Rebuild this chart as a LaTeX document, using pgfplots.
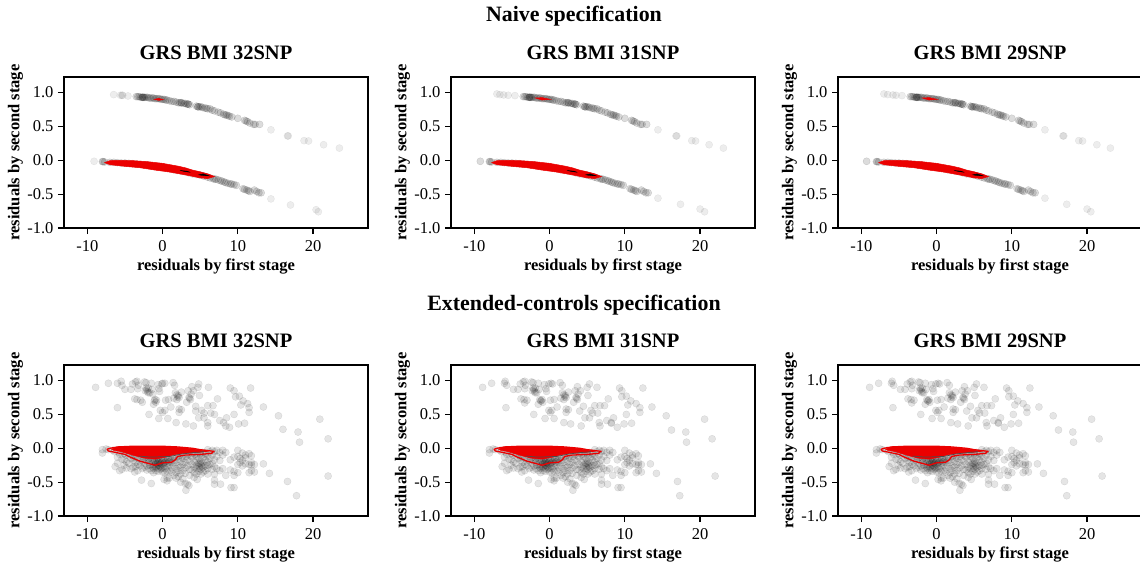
\documentclass[border=0pt]{standalone}
\usepackage{pgfplots}
\usepackage{pgfplotstable}
\usepackage{fontspec}
\setmainfont{Liberation Serif}
\pgfplotsset{compat=1.18}

% ---- Naive specification: shared body of both strips
\pgfplotstableread[row sep=\\]{
x y\\
-3.5 0.94\\-3.3 0.94\\-3.1 0.94\\-2.9 0.93\\-2.7 0.93\\-2.7 0.93\\-2.6 0.93\\-2.5 0.93\\-2.4 0.93\\-2.2 0.93\\-2.0 0.93\\-1.8 0.92\\-1.6 0.92\\-1.4 0.92\\-1.2 0.92\\-1.0 0.91\\-0.8 0.91\\-0.6 0.91\\-0.4 0.91\\-0.2 0.90\\0.0 0.90\\0.2 0.90\\0.4 0.89\\0.6 0.89\\0.9 0.88\\1.2 0.87\\1.5 0.87\\1.8 0.86\\2.1 0.85\\2.3 0.85\\2.5 0.85\\2.5 0.85\\2.8 0.84\\3.0 0.84\\3.2 0.83\\3.4 0.83\\3.4 0.83\\3.6 0.82\\4.5 0.80\\4.7 0.79\\4.7 0.79\\4.9 0.79\\5.1 0.79\\5.3 0.78\\5.6 0.77\\5.8 0.77\\6.0 0.76\\6.3 0.76\\6.6 0.74\\6.9 0.73\\7.4 0.71\\7.7 0.70\\8.1 0.68\\8.3 0.67\\8.5 0.67\\8.7 0.66\\8.9 0.65\\9.2 0.64\\10.0 0.62\\10.9 0.59\\11.1 0.58\\11.3 0.57\\11.6 0.55\\12.1 0.53\\12.3 0.53\\12.9 0.53\\
-8.0 -0.02\\-7.9 -0.02\\-7.7 -0.025\\-7.0 -0.03\\-6.5 -0.03\\-6.0 -0.035\\-5.5 -0.04\\-5.0 -0.04\\-4.5 -0.045\\-4.0 -0.05\\-3.5 -0.055\\-3.0 -0.06\\-2.5 -0.065\\-2.0 -0.07\\-1.5 -0.08\\-1.0 -0.09\\-0.5 -0.095\\0.0 -0.10\\0.5 -0.115\\1.0 -0.125\\1.5 -0.14\\2.0 -0.15\\2.5 -0.16\\3.0 -0.17\\3.5 -0.185\\4.0 -0.20\\4.5 -0.21\\5.0 -0.22\\5.5 -0.235\\6.0 -0.25\\6.3 -0.26\\6.7 -0.27\\6.9 -0.28\\7.1 -0.28\\7.4 -0.29\\7.7 -0.30\\7.9 -0.31\\8.2 -0.32\\8.4 -0.33\\8.7 -0.34\\9.0 -0.35\\9.2 -0.35\\9.5 -0.36\\9.8 -0.37\\10.7 -0.42\\10.9 -0.43\\11.2 -0.44\\11.4 -0.45\\11.6 -0.46\\12.2 -0.44\\12.5 -0.46\\12.8 -0.48\\13.1 -0.48\\
}\naivebody
\pgfplotstableread[row sep=\\]{
x y\\
-6.5 0.97\\-5.6 0.96\\-5.4 0.96\\-5.3 0.96\\-4.6 0.95\\14.4 0.45\\16.6 0.36\\16.7 0.36\\18.8 0.29\\19.4 0.285\\21.4 0.23\\23.5 0.18\\
-9.1 -0.015\\14.4 -0.57\\17.0 -0.66\\20.4 -0.73\\20.7 -0.76\\
}\naivetailA
\pgfplotstableread[row sep=\\]{
x y\\
-7.0 0.98\\-6.6 0.97\\-6.1 0.965\\-5.5 0.96\\-4.6 0.955\\14.4 0.45\\16.8 0.36\\16.9 0.36\\18.9 0.29\\19.4 0.285\\21.2 0.23\\23.1 0.18\\
-9.2 -0.015\\-9.2 -0.015\\14.4 -0.56\\17.4 -0.65\\20.0 -0.72\\20.6 -0.76\\
}\naivetailB
\pgfplotstableread[row sep=\\]{
x y\\
-7.0 0.98\\-6.5 0.97\\-5.8 0.965\\-5.4 0.96\\-4.6 0.955\\14.4 0.45\\16.8 0.36\\16.9 0.36\\18.9 0.29\\19.4 0.285\\21.3 0.23\\23.1 0.18\\
-9.3 -0.015\\-9.3 -0.015\\14.4 -0.56\\17.3 -0.65\\20.0 -0.72\\20.5 -0.76\\
}\naivetailC

% ---- KDE shapes, naive
\pgfplotstableread[row sep=\\]{
x y\\
-7.7 -0.035\\-7 -0.005\\-6 0.0\\-4 -0.005\\-2 -0.02\\0 -0.045\\2 -0.085\\3 -0.11\\4 -0.145\\5 -0.17\\6 -0.20\\6.9 -0.24\\6 -0.27\\5 -0.26\\3 -0.215\\1 -0.175\\-1 -0.145\\-3 -0.11\\-5 -0.09\\-7 -0.065\\
}\kdeNlow
\pgfplotstableread[row sep=\\]{
x y\\
2.3 -0.15\\3.2 -0.16\\3.7 -0.178\\2.9 -0.165\\
}\kdeNdarkA
\pgfplotstableread[row sep=\\]{
x y\\
4.8 -0.215\\5.4 -0.2\\6.2 -0.23\\5.5 -0.228\\
}\kdeNdarkB
\pgfplotstableread[row sep=\\]{
x y\\
-1.1 0.90\\-0.5 0.915\\0.1 0.895\\-0.5 0.885\\
}\kdeNupA
\pgfplotstableread[row sep=\\]{
x y\\
-1.9 0.92\\-1 0.925\\0.1 0.90\\-1 0.89\\
}\kdeNupB

% ---- Extended-controls specification
\pgfplotstableread[row sep=\\]{
x y\\
-8.9 0.90\\-7.2 0.96\\-6.0 0.96\\-5.5 0.99\\-5.4 0.93\\-5.0 0.87\\-6.0 0.60\\-4.2 0.87\\-4.0 0.95\\-3.6 0.98\\-3.4 0.99\\-3.2 0.93\\-3.4 0.72\\-3.7 0.73\\-2.9 0.71\\-2.7 0.68\\-2.4 0.98\\-2.2 0.97\\-2.1 0.87\\-2.0 0.84\\-1.9 0.89\\-1.7 0.82\\-1.5 0.96\\-1.4 0.87\\-1.3 0.80\\-1.1 0.70\\-1.2 0.65\\-0.9 0.68\\-0.6 0.94\\-0.5 0.88\\-0.4 0.84\\-0.1 0.95\\0.0 0.96\\0.3 0.96\\0.4 0.71\\0.8 0.72\\-0.3 0.56\\0.0 0.53\\0.3 0.56\\-0.5 0.44\\0.7 0.44\\-1.8 0.50\\1.1 0.61\\1.4 0.97\\1.6 0.93\\1.5 0.74\\1.7 0.82\\1.9 0.72\\2.1 0.78\\2.2 0.75\\2.5 0.83\\2.2 0.58\\2.2 0.53\\2.5 0.57\\1.8 0.38\\3.1 0.36\\3.2 0.68\\3.4 0.85\\3.6 0.74\\3.8 0.80\\3.9 0.91\\4.1 0.85\\4.1 0.33\\4.4 0.62\\4.4 0.55\\4.8 0.95\\4.7 0.90\\4.9 0.78\\4.8 0.45\\5.2 0.56\\5.5 0.45\\5.5 0.52\\6.0 0.38\\6.0 0.33\\6.1 0.90\\6.0 0.63\\6.4 0.52\\6.7 0.63\\6.9 0.50\\7.3 0.73\\7.6 0.41\\8.1 0.38\\8.5 0.45\\8.4 0.33\\8.9 0.31\\9.0 0.89\\9.5 0.85\\9.7 0.76\\9.5 0.50\\10.2 0.77\\10.1 0.36\\10.9 0.37\\10.4 0.64\\10.7 0.70\\11.3 0.66\\11.5 0.60\\11.5 0.53\\11.7 0.89\\13.4 0.61\\15.4 0.48\\16.0 0.28\\18.0 0.24\\18.2 0.09\\20.9 0.43\\22.0 0.14\\
-3.3 0.88\\-2.3 0.85\\-1.9 0.82\\-2.2 0.89\\-0.8 0.71\\-1.0 0.72\\1.9 0.79\\2.0 0.76\\3.5 0.75\\3.7 0.72\\
}\extupA
\pgfplotstableread[row sep=\\]{
x y\\
-8.9 0.90\\-7.7 0.96\\-6.0 0.96\\-5.9 0.99\\-5.7 0.93\\-4.8 0.87\\-5.8 0.60\\-4.2 0.87\\-3.9 0.95\\-3.5 0.98\\-3.3 0.99\\-3.2 0.93\\-3.4 0.72\\-3.8 0.73\\-3.0 0.71\\-3.3 0.67\\-2.4 0.98\\-2.2 0.97\\-2.1 0.87\\-2.0 0.84\\-1.9 0.89\\-1.7 0.82\\-1.5 0.96\\-1.4 0.87\\-1.3 0.72\\-1.1 0.70\\-1.5 0.65\\-0.9 0.68\\-0.7 0.94\\-0.5 0.88\\-0.4 0.84\\-0.1 0.95\\0.2 0.96\\0.4 0.95\\0.1 0.71\\0.6 0.72\\-0.1 0.56\\0.1 0.53\\0.3 0.56\\-0.6 0.44\\0.6 0.44\\-2.1 0.50\\1.0 0.61\\1.4 0.97\\1.7 0.93\\1.5 0.74\\1.7 0.82\\1.9 0.72\\2.1 0.78\\2.2 0.75\\2.5 0.83\\2.2 0.58\\2.2 0.53\\2.5 0.57\\1.9 0.38\\2.8 0.36\\3.2 0.68\\3.4 0.85\\3.6 0.74\\3.8 0.80\\3.7 0.91\\4.1 0.85\\4.2 0.33\\4.5 0.62\\4.0 0.55\\5.3 0.95\\5.0 0.90\\5.1 0.78\\4.7 0.45\\5.5 0.56\\5.3 0.45\\5.7 0.52\\6.6 0.38\\6.7 0.33\\6.3 0.90\\6.0 0.63\\6.4 0.52\\6.7 0.63\\7.3 0.63\\7.8 0.73\\7.6 0.41\\8.2 0.38\\8.5 0.45\\8.2 0.37\\9.0 0.31\\9.3 0.89\\9.6 0.85\\9.6 0.76\\10.2 0.50\\10.2 0.77\\9.9 0.36\\10.9 0.37\\10.4 0.64\\10.8 0.70\\11.5 0.66\\12.0 0.60\\12.0 0.53\\12.4 0.89\\13.6 0.61\\15.5 0.48\\16.2 0.27\\18.1 0.24\\18.2 0.09\\20.6 0.43\\21.6 0.14\\
-3.3 0.88\\-2.3 0.85\\-1.9 0.82\\-2.2 0.89\\-1.2 0.70\\-1.0 0.72\\1.9 0.79\\2.0 0.76\\3.5 0.75\\3.7 0.72\\
}\extupB
\pgfplotstableread[row sep=\\]{
x y\\
-8.0 -0.02\\-8.0 -0.07\\-7.5 -0.01\\-7.2 -0.02\\-6.6 -0.03\\-6.3 -0.27\\-6.0 -0.13\\-6.0 -0.22\\-5.7 -0.33\\-5.7 -0.09\\-5.4 -0.31\\-5.4 -0.16\\-5.1 -0.17\\-5.1 -0.25\\-5.1 -0.08\\-4.8 -0.20\\-4.8 -0.29\\-4.5 -0.11\\-4.5 -0.22\\-4.2 -0.30\\-3.7 -0.35\\-4.2 -0.15\\-3.9 -0.28\\-3.9 -0.18\\-3.6 -0.27\\-3.6 -0.21\\-3.6 -0.13\\-3.3 -0.33\\-3.3 -0.24\\-3.0 -0.20\\-3.0 -0.26\\-2.8 -0.47\\-2.7 -0.30\\-2.7 -0.18\\-2.4 -0.22\\-2.4 -0.28\\-2.1 -0.26\\-2.1 -0.32\\-2.1 -0.18\\-1.8 -0.30\\-1.8 -0.21\\-1.8 -0.15\\-1.5 -0.52\\-1.5 -0.24\\-1.5 -0.33\\-1.2 -0.18\\-1.2 -0.26\\-1.2 -0.30\\-1.2 -0.36\\-0.9 -0.22\\-0.9 -0.28\\-0.9 -0.33\\-0.6 -0.20\\-0.6 -0.25\\-0.6 -0.30\\-0.6 -0.34\\-0.6 -0.15\\-0.3 -0.22\\-0.3 -0.27\\-0.3 -0.31\\0.0 -0.18\\0.0 -0.24\\0.0 -0.35\\0.0 -0.29\\0.2 -0.46\\0.3 -0.20\\0.3 -0.30\\0.3 -0.36\\0.6 -0.44\\0.6 -0.22\\0.6 -0.27\\0.6 -0.48\\0.6 -0.34\\0.9 -0.17\\0.9 -0.25\\0.9 -0.33\\0.9 -0.44\\1.2 -0.21\\1.2 -0.35\\1.2 -0.29\\1.5 -0.18\\1.5 -0.25\\1.5 -0.40\\1.8 -0.30\\1.8 -0.36\\1.8 -0.21\\1.8 -0.44\\2.1 -0.16\\2.1 -0.26\\2.1 -0.33\\2.1 -0.42\\2.4 -0.20\\2.4 -0.28\\2.4 -0.38\\2.4 -0.50\\2.7 -0.15\\2.7 -0.24\\2.7 -0.33\\2.7 -0.45\\3.0 -0.21\\3.0 -0.29\\3.0 -0.37\\3.0 -0.52\\3.1 -0.62\\3.3 -0.17\\3.3 -0.26\\3.3 -0.53\\3.5 -0.55\\3.6 -0.19\\3.6 -0.31\\3.6 -0.40\\3.9 -0.13\\3.9 -0.24\\3.9 -0.32\\4.2 -0.20\\4.2 -0.28\\4.2 -0.36\\4.2 -0.43\\4.5 -0.12\\4.5 -0.18\\4.5 -0.25\\4.5 -0.30\\4.5 -0.38\\4.8 -0.15\\4.8 -0.22\\4.8 -0.27\\4.8 -0.34\\4.6 -0.46\\5.1 -0.10\\5.1 -0.19\\5.1 -0.24\\5.1 -0.31\\5.1 -0.38\\5.4 -0.13\\5.4 -0.21\\5.4 -0.28\\5.4 -0.35\\5.7 -0.09\\5.7 -0.17\\5.7 -0.26\\5.7 -0.33\\5.7 -0.07\\6.0 -0.12\\6.0 -0.20\\6.0 -0.30\\6.0 -0.38\\6.0 -0.02\\6.0 -0.25\\6.3 -0.15\\6.3 -0.24\\6.3 -0.05\\6.6 -0.10\\6.6 -0.22\\6.6 -0.31\\6.6 -0.03\\6.9 -0.05\\6.9 -0.17\\6.9 -0.27\\6.9 -0.38\\6.9 -0.47\\6.9 -0.53\\7.2 -0.12\\7.2 -0.30\\7.2 -0.03\\7.6 -0.06\\7.6 -0.18\\7.6 -0.33\\7.7 -0.53\\8.0 -0.10\\8.0 -0.03\\8.0 -0.30\\8.4 -0.40\\8.4 -0.06\\9.0 -0.32\\9.1 -0.58\\9.0 -0.17\\9.5 -0.58\\9.5 -0.40\\9.5 -0.34\\9.5 -0.13\\10.0 -0.36\\10.0 -0.03\\10.0 -0.24\\10.0 -0.12\\10.3 -0.21\\10.3 -0.15\\10.6 -0.18\\10.6 -0.07\\10.6 -0.26\\11.0 -0.10\\11.0 -0.14\\11.0 -0.23\\11.5 -0.36\\11.5 -0.08\\11.5 -0.24\\11.8 -0.33\\11.8 -0.25\\11.8 -0.11\\11.8 -0.21\\12.2 -0.35\\12.2 -0.24\\13.4 -0.23\\14.2 -0.37\\
-6.4 -0.05\\-5.8 -0.06\\-5.2 -0.05\\-4.9 -0.10\\-4.4 -0.07\\-4.0 -0.10\\-3.8 -0.14\\-3.4 -0.10\\-3.1 -0.15\\-2.8 -0.12\\-2.5 -0.16\\-2.2 -0.13\\-1.9 -0.18\\-1.6 -0.14\\-1.4 -0.19\\-1.1 -0.15\\-1.0 -0.20\\-0.8 -0.17\\-0.7 -0.22\\-0.5 -0.18\\-0.4 -0.21\\-0.2 -0.16\\-0.1 -0.20\\0.1 -0.17\\0.2 -0.22\\0.4 -0.15\\0.5 -0.19\\0.7 -0.16\\0.8 -0.20\\1.0 -0.14\\1.1 -0.18\\1.3 -0.13\\1.6 -0.14\\1.9 -0.12\\2.2 -0.11\\2.5 -0.13\\2.8 -0.10\\3.1 -0.12\\3.4 -0.09\\3.7 -0.11\\4.0 -0.08\\4.3 -0.09\\4.6 -0.07\\5.0 -0.08\\5.3 -0.06\\
-1.7 -0.25\\-1.3 -0.28\\-1.0 -0.24\\-0.8 -0.27\\-0.4 -0.25\\-0.2 -0.29\\0.2 -0.26\\4.9 -0.29\\5.2 -0.26\\5.0 -0.22\\
}\extlow
\pgfplotstableread[row sep=\\]{
x y\\
16.6 -0.49\\17.8 -0.70\\22.0 -0.41\\
}\extlowtailA
\pgfplotstableread[row sep=\\]{
x y\\
17.0 -0.49\\17.3 -0.70\\22.0 -0.41\\
}\extlowtailB

% ---- KDE shapes, extended
\pgfplotstableread[row sep=\\]{
x y\\
-7.4 -0.015\\-7 0.0\\-6 0.02\\-4 0.03\\-2 0.03\\0 0.03\\2 0.02\\4 0.0\\5 -0.02\\6.8 -0.045\\6.5 -0.075\\5 -0.09\\3 -0.10\\2 -0.12\\1.7 -0.17\\1.2 -0.205\\0 -0.215\\-1 -0.25\\-2 -0.22\\-3 -0.19\\-4.5 -0.12\\-5 -0.09\\-6.5 -0.055\\-7.2 -0.04\\-7.4 -0.015\\
}\kdeEout
\pgfplotstableread[row sep=\\]{
x y\\
-6.8 -0.012\\-6 0.02\\-4 0.03\\-2 0.03\\0 0.03\\2 0.015\\3.5 0.0\\5 -0.025\\6.0 -0.045\\4.5 -0.065\\3 -0.075\\1.5 -0.095\\0.5 -0.13\\-1 -0.16\\-2.5 -0.145\\-4 -0.10\\-5.5 -0.05\\-6.5 -0.03\\
}\kdeEin
\pgfplotstableread[row sep=\\]{
x y\\
-3.2 -0.115\\-1.5 -0.13\\1 -0.12\\2.5 -0.085\\4 -0.065\\5.5 -0.05\\
}\kdeEline

\definecolor{kderd}{RGB}{235,0,0}
\newcommand{\panel}[4]{%
\begin{axis}[at={(#1pt,#2pt)},anchor=south west,scale only axis,width=304pt,height=151pt,
  clip mode=individual,
  xmin=-13.1,xmax=27.3,ymin=-1,ymax=1.23,
  axis line style={line width=1.5pt,black},
  tick style={line width=1.2pt,black},
  tick align=outside,major tick length=6pt,
  xtick={-10,0,10,20},xticklabels={-10,0,10,20},
  ytick={-1,-0.5,0,0.5,1},yticklabels={-1.0,-0.5,0.0,0.5,1.0},
  xtick pos=bottom,ytick pos=left,
  tick label style={font=\fontsize{16.5}{16.5}\selectfont},
  xticklabel style={yshift=-3pt},yticklabel style={xshift=-1pt},
  title={#3},
  title style={font=\bfseries\fontsize{20.5}{20.5}\selectfont,at={(0.5,1)},anchor=center,yshift=18.5pt},
  xlabel={residuals by first stage},ylabel={residuals by second stage},
  every axis x label/.style={at={(axis description cs:0.5,0)},anchor=center,yshift=-38.5pt,font=\bfseries\fontsize{16.5}{16.5}\selectfont},
  every axis y label/.style={at={(axis description cs:0,0.5)},anchor=center,xshift=-48.5pt,rotate=90,font=\bfseries\fontsize{16.5}{16.5}\selectfont},
  pts/.style={only marks,mark=*,mark size=3.6pt,mark options={fill=black,draw=black,line width=0.4pt,opacity=0.1}},
  ptsb/.style={only marks,mark=*,mark size=3.6pt,mark options={fill=black,draw=black,line width=0.4pt,opacity=0.07}},
  kdefill/.style={draw=kderd,fill=kderd,line width=0.5pt,no marks},
  kdeline/.style={draw=kderd,line width=1.3pt,no marks},
]
#4
\end{axis}}

\newcommand{\naive}[2]{%
\addplot[ptsb] table {\naivebody};
\addplot[ptsb] table {\naivebody};
\addplot[ptsb] table {#1};
\addplot[kdefill] table {\kdeNlow} -- cycle;
\addplot[kdefill] table {#2} -- cycle;
\addplot[fill=black,draw=black,line width=0.3pt,no marks] table {\kdeNdarkA} -- cycle;
\addplot[fill=black,draw=black,line width=0.3pt,no marks] table {\kdeNdarkB} -- cycle;
}
\newcommand{\extended}[2]{%
\addplot[pts] table {#1};
\addplot[pts] table {\extlow};
\addplot[pts] table {#2};
\addplot[kdeline] table {\kdeEout};
\addplot[kdefill] table {\kdeEin} -- cycle;
\addplot[draw=black!70,line width=0.7pt,no marks] table {\kdeEline};
}

\begin{document}
\begin{tikzpicture}
\useasboundingbox (0,0) rectangle (1140pt,566pt);
\panel{64}{338}{GRS BMI 32SNP}{\naive{\naivetailA}{\kdeNupA}}
\panel{451}{338}{GRS BMI 31SNP}{\naive{\naivetailB}{\kdeNupB}}
\panel{838}{338}{GRS BMI 29SNP}{\naive{\naivetailC}{\kdeNupB}}
\panel{64}{50}{GRS BMI 32SNP}{\extended{\extupA}{\extlowtailA}}
\panel{451}{50}{GRS BMI 31SNP}{\extended{\extupB}{\extlowtailB}}
\panel{838}{50}{GRS BMI 29SNP}{\extended{\extupB}{\extlowtailB}}
\node[font=\bfseries\fontsize{21.9}{21.9}\selectfont] at (574pt,550pt) {Naive specification};
\node[font=\bfseries\fontsize{21.9}{21.9}\selectfont] at (574pt,261pt) {Extended-controls specification};
\end{tikzpicture}
\end{document}
